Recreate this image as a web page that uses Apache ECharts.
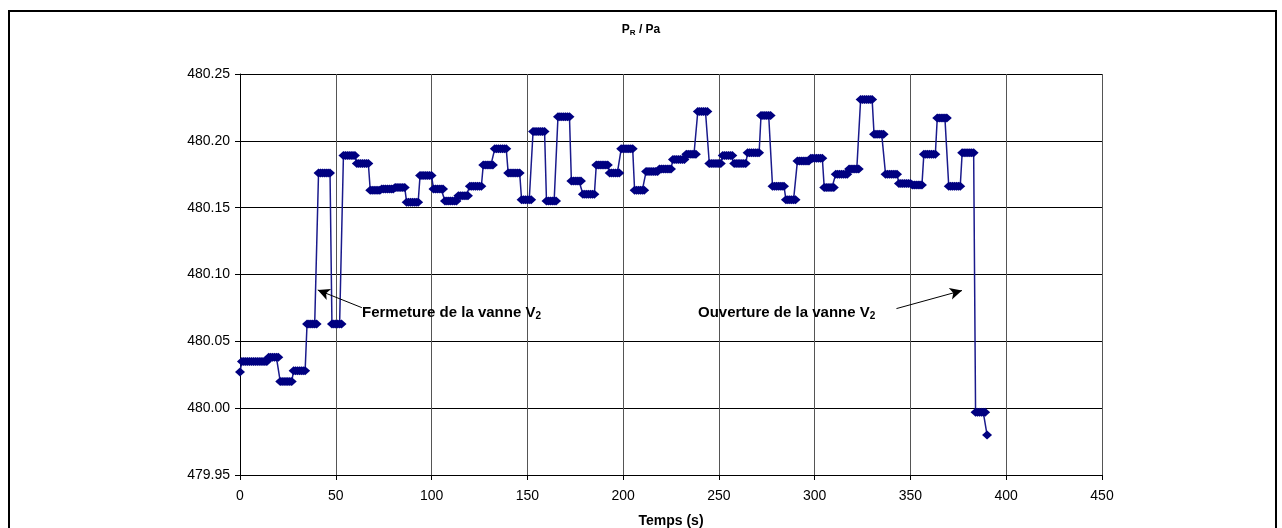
<!DOCTYPE html>
<html><head><meta charset="utf-8">
<script src="https://cdn.jsdelivr.net/npm/echarts@6/dist/echarts.min.js"></script>
<style>html,body{margin:0;padding:0;background:#fff}#c{width:1282px;height:528px}</style>
</head><body><div id="c"></div>
<script>
const FONT = '"Liberation Sans", Arial, Helvetica, sans-serif';

// x axis: Temps (s), y axis: P_R / Pa
const xAxisMin = 0, xAxisMax = 450, xAxisStep = 50;
const yAxisMin = 479.95, yAxisMax = 480.25, yAxisStep = 0.05;

// one sample per second, t = 0 .. 390 s
const sampleStep = 1;
const pressure = [
480.027,
480.035,480.035,480.035,480.035,480.035,480.035,480.035,480.035,480.035,480.035,480.035,480.035,480.035,480.035,
480.038,480.038,480.038,480.038,480.038,480.038,
480.020,480.020,480.020,480.020,480.020,480.020,480.020,
480.028,480.028,480.028,480.028,480.028,480.028,480.028,
480.063,480.063,480.063,480.063,480.063,480.063,
480.176,480.176,480.176,480.176,480.176,480.176,480.176,
480.063,480.063,480.063,480.063,480.063,480.063,
480.189,480.189,480.189,480.189,480.189,480.189,480.189,
480.183,480.183,480.183,480.183,480.183,480.183,480.183,
480.163,480.163,480.163,480.163,480.163,480.163,
480.164,480.164,480.164,480.164,480.164,480.164,480.164,
480.165,480.165,480.165,480.165,480.165,480.165,
480.154,480.154,480.154,480.154,480.154,480.154,480.154,
480.174,480.174,480.174,480.174,480.174,480.174,480.174,
480.164,480.164,480.164,480.164,480.164,480.164,
480.155,480.155,480.155,480.155,480.155,480.155,480.155,
480.159,480.159,480.159,480.159,480.159,480.159,
480.166,480.166,480.166,480.166,480.166,480.166,480.166,
480.182,480.182,480.182,480.182,480.182,480.182,
480.194,480.194,480.194,480.194,480.194,480.194,480.194,
480.176,480.176,480.176,480.176,480.176,480.176,480.176,
480.156,480.156,480.156,480.156,480.156,480.156,
480.207,480.207,480.207,480.207,480.207,480.207,480.207,
480.155,480.155,480.155,480.155,480.155,480.155,
480.218,480.218,480.218,480.218,480.218,480.218,480.218,
480.170,480.170,480.170,480.170,480.170,480.170,
480.160,480.160,480.160,480.160,480.160,480.160,480.160,
480.182,480.182,480.182,480.182,480.182,480.182,480.182,
480.176,480.176,480.176,480.176,480.176,480.176,
480.194,480.194,480.194,480.194,480.194,480.194,480.194,
480.163,480.163,480.163,480.163,480.163,480.163,
480.177,480.177,480.177,480.177,480.177,480.177,480.177,
480.179,480.179,480.179,480.179,480.179,480.179,480.179,
480.186,480.186,480.186,480.186,480.186,480.186,480.186,
480.190,480.190,480.190,480.190,480.190,480.190,
480.222,480.222,480.222,480.222,480.222,480.222,
480.183,480.183,480.183,480.183,480.183,480.183,480.183,
480.189,480.189,480.189,480.189,480.189,480.189,
480.183,480.183,480.183,480.183,480.183,480.183,480.183,
480.191,480.191,480.191,480.191,480.191,480.191,480.191,
480.219,480.219,480.219,480.219,480.219,480.219,
480.166,480.166,480.166,480.166,480.166,480.166,480.166,
480.156,480.156,480.156,480.156,480.156,480.156,
480.185,480.185,480.185,480.185,480.185,480.185,480.185,
480.187,480.187,480.187,480.187,480.187,480.187,480.187,
480.165,480.165,480.165,480.165,480.165,480.165,
480.175,480.175,480.175,480.175,480.175,480.175,480.175,
480.179,480.179,480.179,480.179,480.179,480.179,
480.231,480.231,480.231,480.231,480.231,480.231,480.231,
480.205,480.205,480.205,480.205,480.205,480.205,
480.175,480.175,480.175,480.175,480.175,480.175,480.175,
480.168,480.168,480.168,480.168,480.168,480.168,480.168,
480.167,480.167,480.167,480.167,480.167,480.167,
480.190,480.190,480.190,480.190,480.190,480.190,480.190,
480.217,480.217,480.217,480.217,480.217,480.217,
480.166,480.166,480.166,480.166,480.166,480.166,480.166,
480.191,480.191,480.191,480.191,480.191,480.191,480.191,
479.997,479.997,479.997,479.997,479.997,479.997,
479.980
];

// annotations (data coordinates)
const noteTexts = ['Fermeture de la vanne V', 'Ouverture de la vanne V'];
const noteSub = '2';
const noteAnchors = [[63.7, 480.0712], [239.1, 480.0712]];
const arrowTails = [[63.6, 480.0752], [342.7, 480.0745]];
const arrowTips = [[40.6, 480.0884], [376.9, 480.0880]];

const seriesData = pressure.map((v, i) => [i * sampleStep, v]);

const chart = echarts.init(document.getElementById('c'), null, {renderer: 'canvas'});

const option = {
  animation: false,
  backgroundColor: '#fff',
  title: {
    text: '{p|P}{r|R}{p| / Pa}',
    left: 'center',
    top: 18,
    textStyle: {
      rich: {
        p: {fontFamily: FONT, fontWeight: 'bold', fontSize: 12, color: '#000', lineHeight: 14},
        r: {fontFamily: FONT, fontWeight: 'bold', fontSize: 8, color: '#000', lineHeight: 8, verticalAlign: 'bottom'}
      }
    }
  },
  grid: {left: 240, right: 180, top: 74, bottom: 53, outerBoundsMode: 'none'},
  xAxis: {
    type: 'value', min: xAxisMin, max: xAxisMax, interval: xAxisStep,
    name: 'Temps (s)', nameLocation: 'middle', nameGap: 39,
    nameTextStyle: {fontFamily: FONT, fontWeight: 'bold', fontSize: 14, color: '#000'},
    axisLine: {show: true, onZero: false, lineStyle: {color: '#000', width: 1}},
    axisTick: {show: true, inside: false, length: 5, lineStyle: {color: '#000'}},
    axisLabel: {fontFamily: FONT, fontSize: 14, color: '#000', margin: 14},
    splitLine: {show: true, lineStyle: {color: '#555', width: 1}}
  },
  yAxis: {
    type: 'value', min: yAxisMin, max: yAxisMax, interval: yAxisStep,
    axisLine: {show: true, onZero: false, lineStyle: {color: '#000', width: 1}},
    axisTick: {show: true, inside: false, length: 5, lineStyle: {color: '#000'}},
    axisLabel: {fontFamily: FONT, fontSize: 14, color: '#000', margin: 10,
      formatter: v => v.toFixed(2)},
    splitLine: {show: true, lineStyle: {color: '#000', width: 1}}
  },
  series: [{
    type: 'line',
    data: seriesData,
    showAllSymbol: true,
    symbol: 'diamond',
    symbolSize: [10, 9],
    itemStyle: {color: '#000080', borderWidth: 0},
    lineStyle: {color: '#1a1a8c', width: 1.5},
    emphasis: {disabled: true},
    z: 3,
    markLine: {
      silent: true,
      symbol: ['none', 'arrow'],
      symbolSize: [9, 12],
      label: {show: false},
      lineStyle: {color: '#000', width: 1, type: 'solid'},
      emphasis: {disabled: true},
      data: arrowTails.map((t, i) => [{coord: t}, {coord: arrowTips[i]}])
    }
  }]
};
chart.setOption(option);

const graphics = [{
  type: 'rect', silent: true, z: 0,
  shape: {x: 9, y: 11, width: 1267, height: 560},
  style: {fill: 'none', stroke: '#000', lineWidth: 2}
}];
noteTexts.forEach((txt, i) => {
  const p = chart.convertToPixel({gridIndex: 0}, noteAnchors[i]);
  graphics.push({
    type: 'text', silent: true, z: 10,
    x: p[0], y: p[1],
    style: {
      text: '{m|' + txt + '}{s|' + noteSub + '}',
      align: 'left', verticalAlign: 'middle',
      rich: {
        m: {fontFamily: FONT, fontWeight: 'bold', fontSize: 15, fill: '#000', lineHeight: 17},
        s: {fontFamily: FONT, fontWeight: 'bold', fontSize: 10, fill: '#000', lineHeight: 8, verticalAlign: 'bottom'}
      }
    }
  });
});
chart.setOption({graphic: graphics});
</script>
</body></html>
